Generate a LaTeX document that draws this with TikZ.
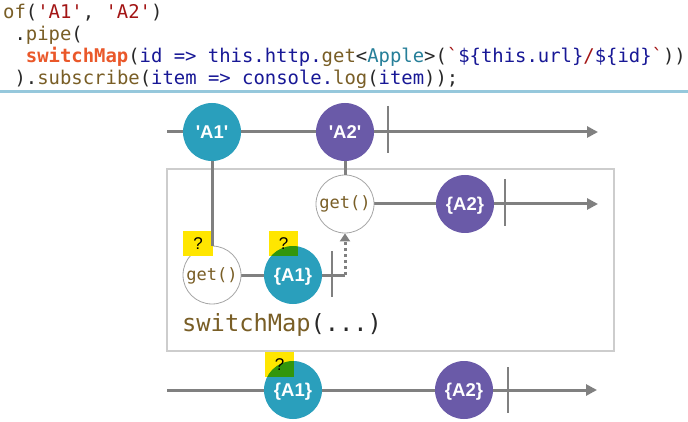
\documentclass[tikz,border=0pt]{standalone}
\usepackage{fontspec}
\setmainfont{Liberation Sans}
\setmonofont{DejaVu Sans Mono}
\usetikzlibrary{arrows.meta}

% syntax colours for the code listing
\definecolor{kwbrown}{RGB}{121,94,38}
\definecolor{strred}{RGB}{163,21,21}
\definecolor{opcolor}{RGB}{234,88,42}
\definecolor{idblue}{RGB}{24,24,150}
\definecolor{typeteal}{RGB}{38,127,153}
\definecolor{punct}{RGB}{40,40,40}
\definecolor{rulecol}{RGB}{150,200,220}
% marble diagram colours
\definecolor{lineg}{RGB}{128,128,128}
\definecolor{tealv}{RGB}{42,159,188}
\definecolor{purplev}{RGB}{106,90,168}
\definecolor{hlyellow}{RGB}{255,230,0}
\definecolor{hlgreen}{RGB}{50,150,12}
\definecolor{boxgray}{RGB}{205,205,205}

\newcommand\cbrown[1]{\textcolor{kwbrown}{#1}}
\newcommand\cred[1]{\textcolor{strred}{#1}}
\newcommand\corange[1]{\textcolor{opcolor}{\bfseries #1}}
\newcommand\cblue[1]{\textcolor{idblue}{#1}}
\newcommand\cteal[1]{\textcolor{typeteal}{#1}}
\newcommand\sq{\textquotesingle}

\begin{document}
\begin{tikzpicture}[x=1pt,y=-1pt,
  code/.style={anchor=base west, inner sep=0pt, text=punct,
    font=\ttfamily\fontsize{18.9}{22}\selectfont},
  tl/.style={draw=lineg, line width=3pt},
  tlarrow/.style={tl, -{Triangle[length=11pt,width=11pt]}},
  tickmark/.style={draw=lineg, line width=2.5pt},
  val/.style={circle, minimum size=58pt, inner sep=0pt, text=white,
    text height=13pt, text depth=0pt,
    font=\bfseries\fontsize{18.5}{18.5}\selectfont},
  tealval/.style={val, fill=tealv},
  purpval/.style={val, fill=purplev},
  getop/.style={circle, minimum size=58pt, inner sep=0pt, draw=lineg!70,
    line width=0.8pt, fill=white, text=kwbrown, text height=10pt, text depth=0pt,
    font=\ttfamily\fontsize{17}{17}\selectfont},
  qbox/.style={rectangle, fill=hlyellow, minimum width=30pt,
    minimum height=25pt, inner sep=0pt},
  qmark/.style={inner sep=0pt, font=\fontsize{17}{17}\selectfont},
]
\useasboundingbox (0,0) rectangle (688,422);
\fill[white] (0,0) rectangle (688,422);

% ---- code listing ----
\node[code] (l1) at (3,19)
  {\cbrown{of}(\cred{'A1'}, \cred{'A2'})};
\node[code] (l2) at (14.4,41)
  {.\cbrown{pipe}(};
\node[code] (l3) at (25.7,63)
  {\corange{switchMap}(\cblue{id => this.http.}\cbrown{get}<\cteal{Apple}>(\cred{`}\cblue{\$\{this.url\}}\cred{/}\cblue{\$\{id\}}\cred{`}))};
\node[code] (l4) at (14.4,85)
  {).\cbrown{subscribe}(\cblue{item => console.}\cbrown{log}(\cblue{item}));};

\coordinate (sepL) at (0,92);
\coordinate (sepR) at (688,92);
\draw[rulecol, line width=3pt] (sepL) -- (sepR);

% ---- operator box ----
\draw[boxgray, line width=1.2pt] (167,169) rectangle (614,351);
\node[anchor=base west, inner sep=0pt, font=\ttfamily\fontsize{23.7}{26}\selectfont]
  (oplabel) at (182,331) {\cbrown{switchMap}\textcolor{punct}{(...)}};

% ---- timeline axes (drawn first, circles cover them) ----
\coordinate (top0) at (167,132);
\coordinate (top1) at (598,132);
\draw[tlarrow] (top0) -- (top1);

\coordinate (g2c) at (345,204);
\coordinate (in1) at (598,204);
\draw[tlarrow] (g2c) -- (in1);

\coordinate (g1c) at (212,275);
\coordinate (turn) at (345,275);
\draw[tl] (g1c) -- (turn);

\coordinate (bot0) at (167,390);
\coordinate (bot1) at (597,390);
\draw[tlarrow] (bot0) -- (bot1);

% ---- completion ticks ----
\coordinate (k1a) at (388,106); \coordinate (k1b) at (388,153);
\coordinate (k2a) at (505,179); \coordinate (k2b) at (505,226);
\coordinate (k3a) at (332,251); \coordinate (k3b) at (332,297);
\coordinate (k4a) at (508,367); \coordinate (k4b) at (508,413);
\draw[tickmark] (k1a) -- (k1b);
\draw[tickmark] (k2a) -- (k2b);
\draw[tickmark] (k3a) -- (k3b);
\draw[tickmark] (k4a) -- (k4b);

% ---- values ----
\node[tealval] (a1) at (212,132) {\sq A1\sq};
\node[purpval] (a2) at (345,132) {\sq A2\sq};
\node[getop] (get2) at (g2c) {get()};
\node[purpval] (r2) at (465,204) {\{A2\}};
\node[getop] (get1) at (g1c) {get()};
\node[tealval] (r1) at (293,275) {\{A1\}};
\node[tealval] (o1) at (293,390) {\{A1\}};
\node[purpval] (o2) at (464,390) {\{A2\}};

% ---- highlight markers ----
\node[qbox] (q1) at (198,243.5) {};
\node[qbox, minimum width=29pt] (q2) at (283.5,243.5) {};
\node[qbox, minimum width=29pt] (q3) at (279.5,364.5) {};
\begin{scope}
  \clip (r1.center) circle (29pt);
  \fill[hlgreen] (q2.south west) rectangle (q2.north east);
\end{scope}
\begin{scope}
  \clip (o1.center) circle (29pt);
  \fill[hlgreen] (q3.south west) rectangle (q3.north east);
\end{scope}
\node[qmark] (q1t) at (q1) {?};
\node[qmark] (q2t) at (q2) {?};
\node[qmark] (q3t) at (q3) {?};

% ---- connectors between values ----
\draw[tl] (a1) -- (get1);
\draw[tl] (a2) -- (get2);
\draw[draw=lineg, line width=3pt, dash pattern=on 3pt off 3pt,
  -{Triangle[length=8pt,width=10pt]}] (turn) -- (get2);
\end{tikzpicture}
\end{document}
